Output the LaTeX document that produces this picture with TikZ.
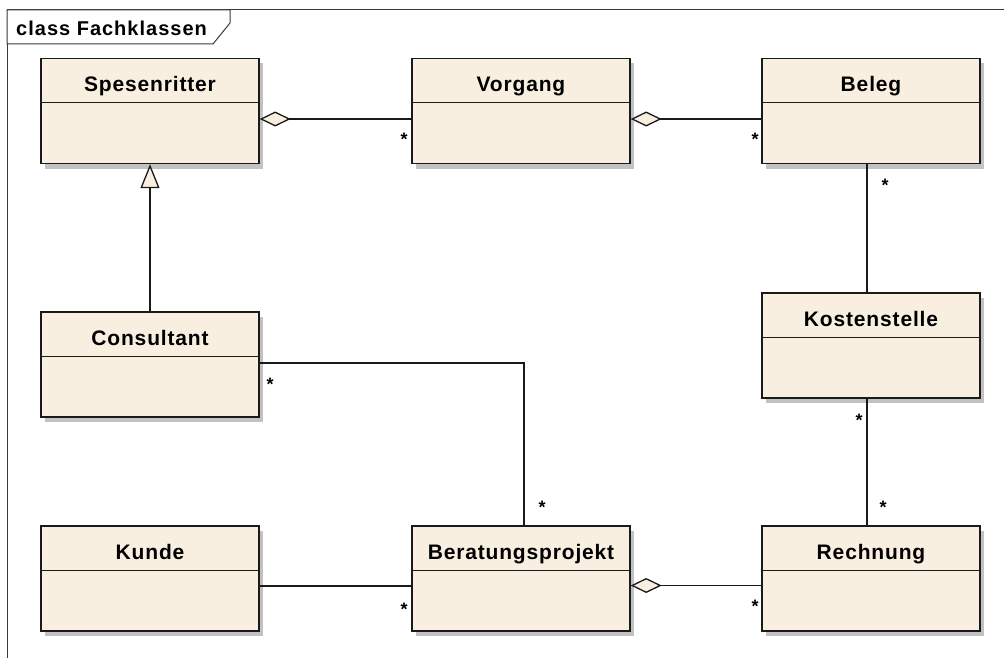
\documentclass[tikz,border=0pt]{standalone}
\usepackage{fontspec}
\setmainfont{Liberation Sans}
\newfontfamily\umlbold[LetterSpace=4.0]{Liberation Sans Bold}
\newfontfamily\umlboldtitle[LetterSpace=5.0]{Liberation Sans Bold}
\newfontfamily\multfont{Liberation Sans Bold}
\usetikzlibrary{arrows.meta,shadows,calc}
\definecolor{classfill}{HTML}{F9EFE1}
\definecolor{lineclr}{HTML}{1A1A1A}
\definecolor{shadowclr}{HTML}{C2C2C2}
\definecolor{frameclr}{HTML}{3A3A3A}
\tikzset{
  umlclass/.style={draw=lineclr, line width=1.4pt, fill=classfill, rectangle,
    minimum width=218pt, minimum height=105pt, inner sep=0pt,
    drop shadow={shadow xshift=4pt, shadow yshift=-5pt, fill=shadowclr, opacity=1}},
  classname/.style={anchor=base, inner sep=0pt, font=\umlbold\fontsize{21}{25}\selectfont},
  assoc/.style={draw=lineclr, line width=1.3pt},
  aggr/.style={assoc, {Diamond[fill=classfill, length=31pt, width=15pt, line width=1.3pt]}-},
  gen/.style={assoc, -{Triangle[fill=classfill, length=24pt, width=19pt, line width=1.3pt]}},
  mult/.style={anchor=base, inner sep=0pt, font=\multfont\fontsize{18}{20}\selectfont},
}
\begin{document}
\begin{tikzpicture}[x=1pt, y=-1pt]
\useasboundingbox (0,0) rectangle (1004,658);
% frame
\draw[frameclr, line width=1pt] (1004,10) -- (7,10) -- (7,658);
\draw[frameclr, line width=1pt, fill=white] (7,10) -- (230,10) -- (230,23) -- (213,44) -- (7,44) -- cycle;
\node[anchor=base west, inner sep=0pt, font=\umlboldtitle\fontsize{20}{24}\selectfont] (frametitle) at (16,36) {class Fachklassen};
% classes
\node[umlclass] (spes) at (150,111) {};
\node[umlclass] (vorg) at (521,111) {};
\node[umlclass] (beleg) at (871,111) {};
\node[umlclass] (cons) at (150,364.5) {};
\node[umlclass] (kost) at (871,345.5) {};
\node[umlclass] (kunde) at (150,578.5) {};
\node[umlclass] (berat) at (521,578.5) {};
\node[umlclass] (rech) at (871,578.5) {};
\foreach \n/\t in {spes/Spesenritter, vorg/Vorgang, beleg/Beleg, cons/Consultant, kost/Kostenstelle, kunde/Kunde, berat/Beratungsprojekt, rech/Rechnung}{
  \draw[lineclr, line width=1.4pt] ([yshift=-45pt]\n.north west) -- ([yshift=-45pt]\n.north east);
  \node[classname] (\n-name) at ([yshift=-34pt]\n.north) {\t};
}
% connectors
\draw[aggr] ([yshift=-8pt]spes.east) -- ([yshift=-8pt]vorg.west);
\draw[aggr] ([yshift=-8pt]vorg.east) -- ([yshift=-8pt]beleg.west);
\draw[gen] (cons.north) -- (spes.south);
\draw[assoc] ([xshift=-4pt]beleg.south) -- ([xshift=-4pt]kost.north);
\draw[assoc] ([xshift=-4pt]kost.south) -- ([xshift=-4pt]rech.north);
\draw[assoc] ([yshift=1.5pt]cons.east) -| ([xshift=3pt]berat.north);
\draw[assoc] ([yshift=-7.5pt]kunde.east) -- ([yshift=-7.5pt]berat.west);
\draw[aggr] ([yshift=-7pt]berat.east) -- ([yshift=-7pt]rech.west);
% multiplicities
\node[mult] (m1) at (404,146) {*};
\node[mult] (m2) at (755,146) {*};
\node[mult] (m3) at (885,191) {*};
\node[mult] (m4) at (270,390) {*};
\node[mult] (m5) at (542,513) {*};
\node[mult] (m6) at (404,615) {*};
\node[mult] (m7) at (755,612) {*};
\node[mult] (m8) at (883,513) {*};
\node[mult] (m9) at (859,426) {*};
\end{tikzpicture}
\end{document}
